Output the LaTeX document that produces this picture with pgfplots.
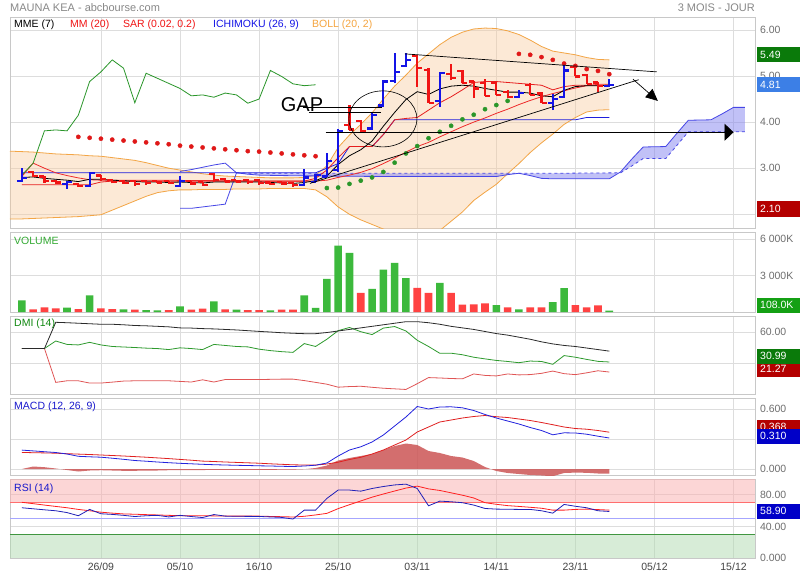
\documentclass[border=0pt]{standalone}
\usepackage{fontspec}
\setmainfont{Liberation Sans}
\usepackage{pgfplots}
\pgfplotsset{compat=1.18}
\usepackage{pgfplotstable}
\usetikzlibrary{arrows.meta}

\definecolor{gridc}{HTML}{DDDDDD}
\definecolor{framec}{HTML}{C8C8C8}
\definecolor{txtgray}{HTML}{6E6E6E}
\definecolor{txtdark}{HTML}{444444}
\definecolor{titlegray}{HTML}{888888}
\definecolor{cblue}{HTML}{1414E6}
\definecolor{cred}{HTML}{F01414}
\definecolor{bollf}{HTML}{F9C99A}
\definecolor{bolll}{HTML}{F3A545}
\definecolor{ichif}{HTML}{8585F0}
\definecolor{ichil}{HTML}{4646E6}
\definecolor{kijc}{HTML}{1E1EDC}
\definecolor{tenc}{HTML}{E61E1E}
\definecolor{mmc}{HTML}{EE2A2A}
\definecolor{chik}{HTML}{2A962A}
\definecolor{sarr}{HTML}{E01818}
\definecolor{sarg}{HTML}{2A962A}
\definecolor{volg}{HTML}{3CB93C}
\definecolor{volr}{HTML}{FF4242}
\definecolor{boxg}{HTML}{0A7A0A}
\definecolor{boxb}{HTML}{3C7FE6}
\definecolor{boxr}{HTML}{B40000}
\definecolor{boxvg}{HTML}{14A014}
\definecolor{boxdb}{HTML}{0000C8}
\definecolor{dmig}{HTML}{2E9A2E}
\definecolor{dmir}{HTML}{E05555}
\definecolor{dmik}{HTML}{2A2A2A}
\definecolor{macb}{HTML}{2222DD}
\definecolor{macr}{HTML}{E02020}
\definecolor{mach}{HTML}{CC5555}
\definecolor{rsib}{HTML}{2020B8}
\definecolor{rsir}{HTML}{FF2020}
\definecolor{pinkf}{HTML}{FBAFAF}
\definecolor{greenf}{HTML}{B0DAB0}
\definecolor{lblg}{HTML}{33AA33}
\definecolor{lbldg}{HTML}{118811}
\definecolor{lblb}{HTML}{1818CC}
\definecolor{bollt}{HTML}{F5A540}

\pgfdeclareplotmark{otick}{\pgfpathmoveto{\pgfqpoint{-5pt}{0pt}}\pgfpathlineto{\pgfqpoint{0pt}{0pt}}\pgfusepathqstroke}
\pgfdeclareplotmark{ctick}{\pgfpathmoveto{\pgfqpoint{0pt}{0pt}}\pgfpathlineto{\pgfqpoint{5pt}{0pt}}\pgfusepathqstroke}

% OHLC, up days (blue)
\pgfplotstableread{
d o h l c
-7 2.73 3.00 2.71 2.78
-3 2.66 2.72 2.55 2.70
-1 2.61 2.92 2.60 2.90
7 2.62 2.83 2.60 2.72
18 2.64 2.98 2.62 2.80
19 2.70 2.88 2.70 2.85
20 2.82 3.32 2.80 3.15
21 2.96 3.86 2.92 3.81
24 3.86 4.23 3.83 4.15
25 4.36 4.91 4.33 4.88
26 4.90 5.49 4.84 5.09
27 5.22 5.49 5.20 5.35
30 4.45 5.09 4.33 5.06
37 4.55 4.70 4.52 4.63
40 4.42 4.62 4.26 4.50
41 4.55 5.24 4.53 5.12
45 4.78 4.93 4.77 4.81
}\upT

% OHLC, down days (red)
\pgfplotstableread{
d o h l c
-6 2.92 2.93 2.80 2.83
-5 2.82 2.84 2.68 2.72
-4 2.72 2.74 2.66 2.69
-2 2.66 2.68 2.60 2.62
0 2.84 2.85 2.73 2.76
1 2.75 2.76 2.67 2.70
2 2.72 2.74 2.66 2.68
3 2.72 2.74 2.62 2.66
4 2.72 2.74 2.64 2.68
5 2.72 2.73 2.67 2.69
6 2.72 2.73 2.66 2.68
8 2.72 2.73 2.64 2.67
9 2.70 2.71 2.62 2.64
10 2.88 2.90 2.70 2.74
11 2.76 2.78 2.69 2.71
12 2.74 2.75 2.69 2.71
13 2.74 2.76 2.66 2.70
14 2.74 2.76 2.64 2.68
15 2.69 2.70 2.64 2.66
16 2.70 2.71 2.64 2.67
17 2.68 2.69 2.60 2.64
22 3.94 4.37 3.82 3.84
23 4.03 4.05 3.79 3.81
28 5.43 5.46 4.77 5.17
29 5.13 5.17 4.42 4.42
31 5.05 5.27 4.91 4.95
32 5.10 5.13 4.84 4.84
33 4.88 4.90 4.52 4.73
34 4.85 4.93 4.57 4.57
35 4.85 4.88 4.59 4.59
36 4.65 4.70 4.52 4.54
38 4.80 4.84 4.59 4.59
39 4.62 4.66 4.41 4.41
42 5.20 5.24 4.99 4.99
43 5.02 5.04 4.83 4.83
44 4.86 4.88 4.66 4.79
}\downT

% Bollinger bands
\pgfplotstableread{
d u l
-8.05 3.37 1.90
-7 3.36 1.90
-6 3.35 1.91
-5 3.33 1.92
-4 3.31 1.93
-3 3.30 1.94
-2 3.29 1.95
-1 3.27 1.97
0 3.26 1.99
1 3.23 2.09
2 3.20 2.19
3 3.17 2.29
4 3.12 2.39
5 3.06 2.47
6 3.00 2.51
7 2.96 2.53
8 2.92 2.53
9 2.88 2.54
10 2.85 2.54
11 2.83 2.54
12 2.82 2.55
13 2.81 2.55
14 2.80 2.55
15 2.79 2.56
16 2.79 2.56
17 2.79 2.56
18 2.80 2.56
19 2.85 2.53
20 3.05 2.38
21 3.45 2.16
22 3.72 2.00
23 3.95 1.88
24 4.20 1.78
25 4.50 1.68
26 4.78 1.60
27 5.02 1.52
28 5.28 1.48
29 5.48 1.50
30 5.68 1.65
31 5.84 1.85
32 5.95 2.05
33 6.02 2.30
34 6.04 2.48
35 6.03 2.65
36 5.98 2.88
37 5.90 3.10
38 5.78 3.34
39 5.64 3.55
40 5.54 3.74
41 5.50 3.95
42 5.46 4.10
43 5.40 4.22
44 5.36 4.26
45 5.35 4.27
}\bollT

\pgfplotsset{
  panel/.style={
    scale only axis, width=745pt, anchor=north west,
    xmin=-8.05, xmax=57.9,
    axis line style={framec, line width=0.8pt},
    xtick={0,7,...,56},
    major tick length=0pt,
    xmajorgrids, ymajorgrids,
    grid style={gridc, line width=0.8pt},
    yticklabel pos=right,
    yticklabel style={font=\fontsize{10.5}{12}\selectfont, text=txtgray, anchor=west, xshift=1.5pt},
    scaled y ticks=false,
    clip mode=individual,
  },
  ln/.style={line width=0.8pt, mark=none},
}

\tikzset{vbox/.style={anchor=west, text=white, font=\fontsize{10.5}{12}\selectfont, minimum height=15pt, text width=37pt, inner xsep=3pt, inner ysep=0pt, align=left}}

\begin{document}
\begin{tikzpicture}
\path[use as bounding box, fill=white] (0,0) rectangle (800pt,-580pt);

% ================= MAIN PRICE PANEL =================
\begin{axis}[panel, at={(10pt,-17pt)}, height=211pt,
  ymin=1.703, ymax=6.28, ytick={2,3,4,5,6}, yticklabels={{},3.00,4.00,5.00,6.00},
  xticklabels={}]
% Bollinger band (upper forward, lower backward)
\addplot[fill=bollf, fill opacity=0.4, draw=none] coordinates {(-8.05,3.37) (-7,3.36) (-6,3.35) (-5,3.33) (-4,3.31) (-3,3.30) (-2,3.29) (-1,3.27) (0,3.26) (1,3.23) (2,3.20) (3,3.17) (4,3.12) (5,3.06) (6,3.00) (7,2.96) (8,2.92) (9,2.88) (10,2.85) (11,2.83) (12,2.82) (13,2.81) (14,2.80) (15,2.79) (16,2.79) (17,2.79) (18,2.80) (19,2.85) (20,3.05) (21,3.45) (22,3.72) (23,3.95) (24,4.20) (25,4.50) (26,4.78) (27,5.02) (28,5.28) (29,5.48) (30,5.68) (31,5.84) (32,5.95) (33,6.02) (34,6.04) (35,6.03) (36,5.98) (37,5.90) (38,5.78) (39,5.64) (40,5.54) (41,5.50) (42,5.46) (43,5.40) (44,5.36) (45,5.35)
 (45,4.27) (44,4.26) (43,4.22) (42,4.10) (41,3.95) (40,3.74) (39,3.55) (38,3.34) (37,3.10) (36,2.88) (35,2.65) (34,2.48) (33,2.30) (32,2.05) (31,1.85) (30,1.65) (29,1.50) (28,1.48) (27,1.52) (26,1.60) (25,1.68) (24,1.78) (23,1.88) (22,2.00) (21,2.16) (20,2.38) (19,2.53) (18,2.56) (17,2.56) (16,2.56) (15,2.56) (14,2.55) (13,2.55) (12,2.55) (11,2.54) (10,2.54) (9,2.54) (8,2.53) (7,2.53) (6,2.51) (5,2.47) (4,2.39) (3,2.29) (2,2.19) (1,2.09) (0,1.99) (-1,1.97) (-2,1.95) (-3,1.94) (-4,1.93) (-5,1.92) (-6,1.91) (-7,1.90) (-8.05,1.90)};
\addplot[bolll, ln] table[x=d,y=u]{\bollT};
\addplot[bolll, ln] table[x=d,y=l]{\bollT};
% Ichimoku cloud (senkou A forward, senkou B backward)
\addplot[fill=ichif, fill opacity=0.5, draw=none] coordinates {(12,2.90) (13,2.87) (14,2.85) (16,2.84) (20,2.83) (25,2.82) (30,2.82) (35,2.82) (36,2.86) (37,2.89) (38,2.84) (39,2.78) (40,2.77) (45,2.77) (46,2.92) (47,3.20) (48,3.46) (50,3.47) (51,3.76) (52,4.04) (54,4.05) (55,4.18) (56,4.32) (57,4.32)
 (57,3.79) (52,3.79) (51,3.50) (50,3.21) (48,3.21) (47,3.05) (46,2.90) (40,2.89) (30,2.89) (20,2.89) (13,2.89) (12,2.90)};
\addplot[ichil, ln] coordinates {(7,2.93) (8,2.97) (9,3.02) (10,3.07) (11,3.11) (12,2.90) (13,2.87) (14,2.85) (16,2.84) (20,2.83) (25,2.82) (30,2.82) (35,2.82) (36,2.86) (37,2.89) (38,2.84) (39,2.78) (40,2.77) (45,2.77) (46,2.92) (47,3.20) (48,3.46) (50,3.47) (51,3.76) (52,4.04) (54,4.05) (55,4.18) (56,4.32) (57,4.32)};
\addplot[ichil, ln, dashed] coordinates {(12,2.90) (13,2.89) (20,2.89) (30,2.89) (40,2.89) (46,2.90) (47,3.05) (48,3.21) (50,3.21) (51,3.50) (52,3.79) (57,3.79)};
\addplot[ichil, ln] coordinates {(7,2.13) (8,2.13) (9,2.16) (10,2.19) (11,2.22) (12,2.90)};
% Kijun
\addplot[kijc, ln] coordinates {(-7,2.90) (19,2.90) (20,3.00) (21,3.10) (22,3.47) (24,3.47) (25,3.73) (26,4.05) (42,4.05) (43,4.10) (45,4.10)};
% Tenkan
\addplot[tenc, ln] coordinates {(-7,2.64) (-1,2.64) (0,2.70) (1,2.72) (18,2.72) (19,2.78) (20,2.96) (21,3.23) (22,3.47) (23,3.47) (24,3.47) (25,3.73) (26,4.05) (27,4.08) (28,4.10) (29,4.26) (30,4.42) (31,4.55) (32,4.70) (33,4.86) (34,4.88) (35,4.88) (36,4.86) (37,4.84) (38,4.82) (39,4.80) (40,4.70) (41,4.77) (42,4.80) (45,4.80)};
% MM 20
\addplot[mmc, ln] coordinates {(-7,2.82) (-6,3.11) (-5,3.00) (-4,2.90) (-3,2.84) (-2,2.79) (-1,2.75) (0,2.74) (5,2.74) (10,2.73) (15,2.72) (19,2.72) (20,2.74) (21,2.80) (22,2.85) (23,2.91) (24,2.99) (25,3.10) (26,3.22) (27,3.35) (28,3.47) (29,3.56) (30,3.68) (31,3.79) (32,3.90) (33,4.00) (34,4.09) (35,4.19) (36,4.28) (37,4.38) (38,4.47) (39,4.55) (40,4.62) (41,4.68) (42,4.74) (43,4.79) (44,4.82) (45,4.82)};
% MME 7
\addplot[black, ln] coordinates {(-7,2.80) (-6,2.81) (-5,2.78) (-4,2.76) (-3,2.74) (-2,2.71) (-1,2.76) (0,2.76) (1,2.74) (2,2.73) (3,2.71) (4,2.70) (5,2.70) (6,2.69) (7,2.70) (8,2.69) (9,2.68) (10,2.70) (11,2.70) (12,2.70) (13,2.70) (14,2.70) (15,2.69) (16,2.68) (17,2.67) (18,2.69) (19,2.73) (20,2.83) (21,3.08) (22,3.27) (23,3.40) (24,3.59) (25,3.91) (26,4.21) (27,4.49) (28,4.66) (29,4.60) (30,4.72) (31,4.78) (32,4.80) (33,4.78) (34,4.73) (35,4.69) (36,4.65) (37,4.65) (38,4.63) (39,4.57) (40,4.55) (41,4.69) (42,4.77) (43,4.79) (44,4.79) (45,4.80)};
% Chikou
\addplot[chik, ln] coordinates {(-7,2.85) (-6,3.11) (-5,3.81) (-4,3.83) (-3,3.81) (-2,4.15) (-1,4.88) (0,5.09) (1,5.35) (2,5.17) (3,4.42) (4,5.06) (5,4.95) (6,4.84) (7,4.73) (8,4.57) (9,4.59) (10,4.54) (11,4.63) (12,4.59) (13,4.41) (14,4.50) (15,5.12) (16,4.99) (17,4.83) (18,4.79) (19,4.81)};
% SAR
\addplot[sarr, only marks, mark=*, mark size=2.1pt, mark options={draw=none, fill=sarr}] coordinates {(-2,3.68) (-1,3.66) (0,3.64) (1,3.62) (2,3.60) (3,3.58) (4,3.56) (5,3.54) (6,3.52) (7,3.49) (8,3.47) (9,3.45) (10,3.43) (11,3.41) (12,3.39) (13,3.37) (14,3.36) (15,3.34) (16,3.32) (17,3.30) (18,3.28) (19,3.26) (37,5.48) (38,5.46) (39,5.41) (40,5.35) (41,5.27) (42,5.22) (43,5.15) (44,5.11) (45,5.04)};
\addplot[sarg, only marks, mark=*, mark size=2.1pt, mark options={draw=none, fill=sarg}] coordinates {(20,2.57) (21,2.58) (22,2.66) (23,2.73) (24,2.80) (25,2.92) (26,3.12) (27,3.32) (28,3.48) (29,3.65) (30,3.79) (31,3.92) (32,4.06) (33,4.16) (34,4.28) (35,4.37) (36,4.46)};
% OHLC bars
\addplot[cblue, line width=2.2pt, quiver={u=0, v=\thisrow{h}-\thisrow{l}}] table[x=d, y=l]{\upT};
\addplot[cred, line width=2.2pt, quiver={u=0, v=\thisrow{h}-\thisrow{l}}] table[x=d, y=l]{\downT};
\addplot[only marks, mark=otick, mark options={cblue, line width=2.2pt}] table[x=d,y=o]{\upT};
\addplot[only marks, mark=ctick, mark options={cblue, line width=2.2pt}] table[x=d,y=c]{\upT};
\addplot[only marks, mark=otick, mark options={cred, line width=2.2pt}] table[x=d,y=o]{\downT};
\addplot[only marks, mark=ctick, mark options={cred, line width=2.2pt}] table[x=d,y=c]{\downT};
% drawn trend lines and annotations
\addplot[black, line width=0.7pt] coordinates {(26.9,5.48) (49.2,5.09)};
\addplot[black, line width=0.7pt] coordinates {(18.5,2.67) (47.6,4.92)};
\addplot[black, line width=0.7pt, -{Triangle[length=12pt,width=11pt]}] coordinates {(47.1,4.93) (49.3,4.46)};
\addplot[black, line width=0.8pt, -{Triangle[length=9pt,width=17pt]}] coordinates {(19.9,3.78) (56.0,3.78)};
\addplot[black, line width=0.8pt] coordinates {(17.9,4.31) (24.9,4.31)};
\addplot[black, line width=0.8pt] coordinates {(18.4,4.22) (24.8,4.22)};
\draw[black, line width=0.6pt] (axis cs:24.96,4.07) ellipse [x radius=34pt, y radius=28pt];
\node[font=\fontsize{20}{22}\selectfont, inner sep=0pt] at (axis cs:17.8,4.37) {GAP};
\end{axis}

% ================= VOLUME =================
\begin{axis}[panel, at={(10pt,-232pt)}, height=80pt,
  ymin=0, ymax=6575, ytick={3000,6000}, yticklabels={3 000K,6 000K}, xticklabels={}]
\addplot[ybar, bar width=7.6pt, bar shift=0pt, fill=volg, draw=none] coordinates {(-7,950) (-3,350) (-1,1360) (2,220) (4,160) (5,140) (7,460) (10,870) (12,190) (15,140) (18,1360) (19,330) (20,2720) (21,5450) (22,4850) (24,1900) (25,3490) (26,4030) (27,2780) (30,2400) (35,570) (37,220) (40,820) (41,1960) (45,108)};
\addplot[ybar, bar width=7.6pt, bar shift=0pt, fill=volr, draw=none] coordinates {(-6,220) (-5,380) (-4,300) (-2,245) (0,300) (1,245) (3,190) (6,160) (8,190) (9,270) (11,220) (13,160) (14,160) (16,190) (17,190) (23,1580) (28,1990) (29,1580) (31,1580) (32,600) (33,630) (34,710) (36,380) (38,380) (39,380) (42,570) (43,380) (44,545)};
\end{axis}

% ================= DMI =================
\begin{axis}[panel, at={(10pt,-316pt)}, height=78pt,
  ymin=0, ymax=75.5, ytick={0,30,60}, yticklabels={{},{},60.00}, xticklabels={}]
\addplot[dmir, ln] coordinates {(-7,44) (-5,44) (-4,11.25) (-3,12.8) (-2,12.8) (-1,10.6) (0,10.6) (1,11.5) (2,12.5) (3,12.8) (4,12.8) (5,12.8) (6,12.8) (7,12.2) (8,11.6) (9,13.75) (10,11.6) (11,14) (12,14) (13,14) (14,14) (15,14.2) (16,14.4) (17,14.4) (18,13) (19,11.25) (20,9.5) (21,6.6) (22,7.2) (23,7.5) (24,6.5) (25,5.6) (26,5) (27,4.4) (28,10) (29,15.9) (30,15.5) (31,15) (32,14.7) (33,19.4) (34,18) (35,17.5) (36,19.4) (37,18.5) (38,18.8) (39,20) (40,22.2) (41,19.7) (42,18.75) (43,20.5) (44,22.5) (45,21.27)};
\addplot[dmig, ln] coordinates {(-7,44) (-5,44) (-4,51.3) (-3,48) (-2,47.5) (-1,50) (0,47.5) (1,46) (2,45.5) (3,45) (4,44.4) (5,44) (6,43) (7,44.7) (8,44) (9,43) (10,48) (11,47) (12,46) (13,45.6) (14,43.4) (15,42) (16,41) (17,40.3) (18,48.8) (19,46) (20,53) (21,61.3) (22,64.4) (23,60.3) (24,57.5) (25,63.8) (26,65.3) (27,61) (28,52) (29,46) (30,39.4) (31,39.5) (32,38) (33,35.6) (34,34) (35,32.5) (36,31.5) (37,30.3) (38,31.9) (39,31.5) (40,28.75) (41,37.2) (42,35.6) (43,33.5) (44,31.6) (45,30.99)};
\addplot[dmik, ln] coordinates {(-7,44) (-5,44) (-4,69.4) (-3,69) (-2,68.5) (-1,68) (0,67.5) (1,67.5) (2,67) (3,66.3) (4,66) (5,65.5) (6,65) (7,64) (8,63.8) (9,63.3) (10,63) (11,62.5) (12,62) (13,61.3) (14,60.6) (15,60) (16,59.3) (17,58.8) (18,58.4) (19,58.4) (20,59.5) (21,61) (22,62.5) (23,64) (24,65.5) (25,67) (26,68.5) (27,70) (28,70) (29,69) (30,67.5) (31,65.5) (32,64) (33,62.5) (34,60.5) (35,58.5) (36,57) (37,55) (38,53) (39,50.5) (40,48.5) (41,47) (42,46) (43,44.5) (44,43) (45,41.5)};
\end{axis}

% ================= MACD =================
\begin{axis}[panel, at={(10pt,-398pt)}, height=77pt,
  ymin=-0.06, ymax=0.71, ytick={0,0.3,0.6}, yticklabels={0.000,{},0.600}, xticklabels={}]
\addplot[fill=mach, fill opacity=0.85, draw=none] coordinates {(-7,0) (-6,0.025) (-5,0.018) (-4,0.005) (-3,-0.010) (-2,-0.025) (-1,-0.015) (0,-0.012) (1,-0.015) (2,-0.018) (3,-0.018) (4,-0.015) (5,-0.015) (6,-0.012) (7,-0.012) (8,-0.010) (9,-0.010) (12,-0.009) (15,-0.008) (17,-0.006) (18,-0.002) (19,0.01) (20,0.035) (21,0.085) (22,0.11) (23,0.13) (24,0.15) (25,0.19) (26,0.23) (27,0.255) (28,0.24) (29,0.18) (30,0.16) (31,0.13) (32,0.115) (33,0.08) (34,0.02) (35,-0.02) (36,-0.04) (37,-0.05) (38,-0.06) (39,-0.065) (40,-0.072) (41,-0.04) (42,-0.036) (43,-0.038) (44,-0.045) (45,-0.046) (45,0)};
\addplot[macr, ln] coordinates {(-7,0.166) (-6,0.163) (-5,0.161) (-4,0.158) (-3,0.153) (-2,0.149) (-1,0.145) (0,0.140) (1,0.135) (2,0.130) (3,0.124) (4,0.118) (5,0.111) (6,0.104) (7,0.096) (8,0.088) (9,0.079) (10,0.075) (11,0.070) (12,0.066) (13,0.062) (14,0.058) (15,0.052) (16,0.047) (17,0.042) (18,0.040) (19,0.039) (20,0.050) (21,0.068) (22,0.095) (23,0.117) (24,0.150) (25,0.190) (26,0.240) (27,0.290) (28,0.370) (29,0.420) (30,0.470) (31,0.490) (32,0.510) (33,0.525) (34,0.535) (35,0.523) (36,0.515) (37,0.500) (38,0.485) (39,0.465) (40,0.443) (41,0.420) (42,0.405) (43,0.398) (44,0.385) (45,0.368)};
\addplot[macb, ln] coordinates {(-7,0.189) (-6,0.181) (-5,0.173) (-4,0.165) (-3,0.150) (-2,0.127) (-1,0.122) (0,0.118) (1,0.108) (2,0.097) (3,0.085) (4,0.078) (5,0.070) (6,0.063) (7,0.057) (8,0.052) (9,0.047) (10,0.043) (11,0.040) (12,0.037) (13,0.035) (14,0.032) (15,0.030) (16,0.027) (17,0.025) (18,0.030) (19,0.038) (20,0.060) (21,0.130) (22,0.190) (23,0.222) (24,0.270) (25,0.340) (26,0.430) (27,0.520) (28,0.625) (29,0.600) (30,0.620) (31,0.622) (32,0.612) (33,0.585) (34,0.545) (35,0.510) (36,0.480) (37,0.450) (38,0.415) (39,0.385) (40,0.342) (41,0.362) (42,0.360) (43,0.348) (44,0.328) (45,0.310)};
\end{axis}

% ================= RSI =================
\begin{axis}[panel, at={(10pt,-479pt)}, height=79pt,
  ymin=0, ymax=100, ytick={0,40,80}, yticklabels={0.000,40.00,80.00},
  xticklabels={26/09,05/10,16/10,25/10,03/11,14/11,23/11,05/12,15/12},
  xticklabel style={font=\fontsize{10.5}{12}\selectfont, text=txtdark, yshift=-1pt}]
\addplot[fill=pinkf, fill opacity=0.5, draw=none] coordinates {(-8.05,70) (57.9,70) (57.9,100) (-8.05,100)};
\addplot[fill=greenf, fill opacity=0.5, draw=none] coordinates {(-8.05,0) (-8.05,30) (57.9,30) (57.9,0)};
\addplot[color=rsir!65!white, line width=0.6pt] coordinates {(-8.05,70) (57.9,70)};
\addplot[color=blue!35!white, line width=0.6pt] coordinates {(-8.05,50) (57.9,50)};
\addplot[color=green!45!black!75!white, line width=0.6pt] coordinates {(-8.05,30) (57.9,30)};
\addplot[rsir, ln] coordinates {(-7,70.5) (-6,68.8) (-5,67) (-4,65.3) (-3,63.6) (-2,61.5) (-1,59.8) (0,58) (1,56.8) (2,55.8) (3,55.4) (4,54.9) (5,54.5) (6,54) (7,53.6) (8,53.5) (9,53.5) (10,53.3) (11,53.1) (12,53) (13,53) (14,53) (15,52.6) (16,52.3) (17,51.9) (18,52.8) (19,54.5) (20,56.5) (21,62.5) (22,67.5) (23,72.2) (24,77) (25,81) (26,84.8) (27,88.5) (28,91) (29,87.5) (30,85.5) (31,82.5) (32,79.5) (33,76) (34,70) (35,68) (36,66.3) (37,65.3) (38,64.2) (39,63) (40,60.6) (41,60.6) (42,61.5) (43,61.9) (44,61.3) (45,60.6)};
\addplot[rsib, ln] coordinates {(-7,63.6) (-6,62.3) (-5,61) (-4,59.8) (-3,57.5) (-2,53.5) (-1,61.5) (0,56) (1,55.2) (2,54) (3,52.5) (4,53.5) (5,54) (6,52) (7,54) (8,52.5) (9,51.2) (10,55) (11,53) (12,52.8) (13,52.7) (14,52.6) (15,52) (16,51.4) (17,49.3) (18,60.6) (19,60.6) (20,75.4) (21,86) (22,86) (23,84.6) (24,88) (25,90.5) (26,92.5) (27,93.5) (28,88) (29,66.1) (30,72) (31,71.2) (32,70) (33,67) (34,62.7) (35,61.9) (36,61.7) (37,61.5) (38,61.5) (39,59.8) (40,56.8) (41,67.8) (42,65.5) (43,63.6) (44,59.8) (45,58.9)};
\end{axis}

% ================= TEXTS =================
\node[anchor=west, text=titlegray, font=\fontsize{11}{13}\selectfont, inner sep=0pt] at (10pt,-8pt) {MAUNA KEA - abcbourse.com};
\node[anchor=east, text=titlegray, font=\fontsize{11}{13}\selectfont, inner sep=0pt] at (755pt,-8pt) {3 MOIS - JOUR};
\begin{scope}[every node/.style={anchor=west, inner sep=0pt, font=\fontsize{10.5}{12}\selectfont}]
\node[text=black] at (14pt,-25pt) {MME (7)};
\node[text=cred] at (70pt,-25pt) {MM (20)};
\node[text=cred] at (123pt,-25pt) {SAR (0.02, 0.2)};
\node[text=cblue] at (213pt,-25pt) {ICHIMOKU (26, 9)};
\node[text=bollt] at (312pt,-25pt) {BOLL (20, 2)};
\node[text=lblg] at (14pt,-241pt) {VOLUME};
\node[text=lbldg] at (14pt,-324pt) {DMI (14)};
\node[text=lblb] at (14pt,-407pt) {MACD (12, 26, 9)};
\node[text=lblb] at (14pt,-489pt) {RSI (14)};
\end{scope}

\node[vbox, fill=boxg] at (757pt,-55pt) {5.49};
\node[vbox, fill=boxb] at (757pt,-85pt) {4.81};
\node[vbox, fill=boxr] at (757pt,-209pt) {2.10};
\node[vbox, fill=boxvg] at (757pt,-305pt) {108.0K};
\node[vbox, fill=boxr] at (757pt,-369pt) {21.27};
\node[vbox, fill=boxg] at (757pt,-356pt) {30.99};
\node[vbox, fill=boxr] at (757pt,-427pt) {0.368};
\node[vbox, fill=boxdb] at (757pt,-436pt) {0.310};
\node[vbox, fill=boxdb] at (757pt,-511pt) {58.90};
\end{tikzpicture}
\end{document}
